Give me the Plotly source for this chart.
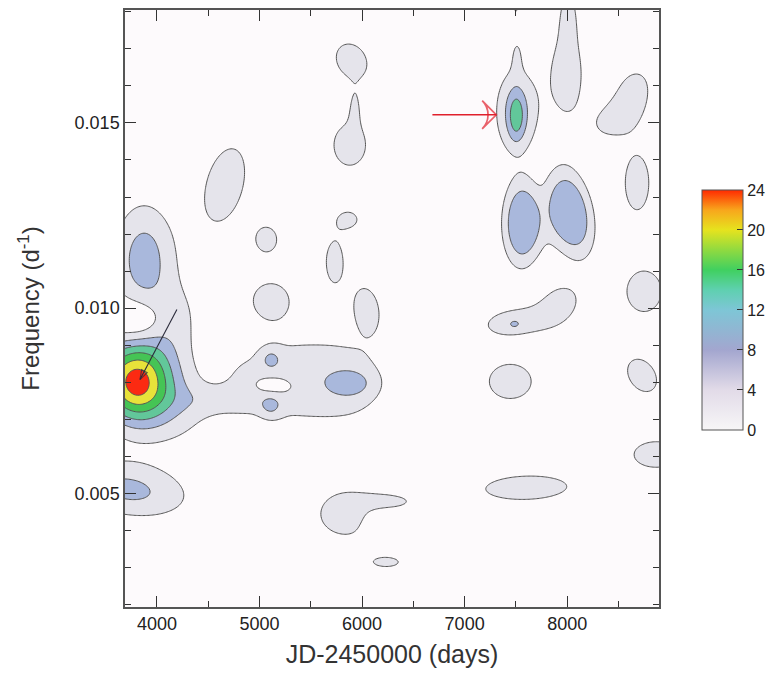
import numpy as np
import plotly.graph_objects as go

# ---- axis / tick values ----
x_range = [3689, 8895]
y_range = [0.00193, 0.01805]
x_ticks = [4000, 5000, 6000, 7000, 8000]
x_tick_labels = ["4000", "5000", "6000", "7000", "8000"]
x_minor = [3500, 4500, 5500, 6500, 7500, 8500]
y_ticks = [0.005, 0.010, 0.015]
y_tick_labels = ["0.005", "0.010", "0.015"]
y_minor = [0.002, 0.003, 0.004, 0.006, 0.007, 0.008, 0.009, 0.011, 0.012, 0.013, 0.014, 0.016, 0.017, 0.018]
cbar_ticks = [0, 4, 8, 12, 16, 20, 24]

# ---- power features ----
# centre JD, centre frequency, peak power, width in JD, width in frequency, tilt, profile power
feat_jd = [3790, 3880, 3875, 4150, 3820, 4620,
           4850, 5148, 5567, 5975, 5888, 5130, 5110, 5110,
           3720, 5860, 6270, 6200, 6240,
           5898, 5880, 5930,
           4662, 5070, 5869, 5732, 5110, 6044,
           7504, 7504, 7510, 7500, 7995, 8010, 8650, 8470, 8681,
           7545, 8050, 7800,
           7480, 7925, 7484, 7445, 7601, 8750, 8730, 8870]
feat_freq = [0.00800, 0.00785, 0.01130, 0.00950, 0.00965, 0.00752,
             0.00800, 0.00805, 0.00805, 0.00800, 0.00797, 0.00790, 0.00864, 0.00735,
             0.00510, 0.00444, 0.00478, 0.00415, 0.00314,
             0.01668, 0.01440, 0.01545,
             0.01333, 0.01185, 0.01239, 0.01125, 0.01023, 0.01002,
             0.01530, 0.01516, 0.01690, 0.01820, 0.01630, 0.01790, 0.01590, 0.01510, 0.01338,
             0.01228, 0.01255, 0.01240,
             0.00962, 0.01010, 0.00956, 0.00802, 0.00515, 0.01045, 0.00818, 0.00605]
feat_amp = [16, 10, 10, 4.5, -6, 3.5,
            2.8, 4.2, 4.2, 4.2, 5, -4, 4.5, 4.5,
            9, 6, 4.6, -4, 5,
            6, 6, 3.5,
            6, 6, 5, 6, 6, 6,
            9, 6.5, 3.2, 5, 6, 5, 5.5, 5.5, 6,
            10, 10, 4.5,
            6.5, 6, 2.2, 6, 6, 6, 6, 6]
feat_wjd = [220, 400, 215, 230, 170, 300,
            150, 272, 272, 272, 150, 180, 78, 78,
            420, 290, 190, 130, 156,
            165, 170, 50,
            214, 107, 117, 88, 175, 117,
            150, 55, 45, 35, 155, 60, 140, 190, 127,
            150, 180, 150,
            250, 170, 40, 226, 438, 185, 156, 240]
feat_wf = [0.00072, 0.00095, 0.00108, 0.00085, 0.00042, 0.00030,
           0.00050, 0.00093, 0.00093, 0.00093, 0.00025, 0.00020, 0.00022, 0.00022,
           0.00055, 0.00062, 0.00015, 0.00028, 0.00016,
           0.00050, 0.00060, 0.00040,
           0.00108, 0.00035, 0.00027, 0.00058, 0.00046, 0.00054,
           0.00085, 0.00045, 0.00040, 0.00025, 0.00105, 0.00060, 0.00050, 0.00045, 0.00080,
           0.00097, 0.00100, 0.00080,
           0.00032, 0.00045, 0.00008, 0.00051, 0.00035, 0.00060, 0.00048, 0.00038]
feat_rho = [0, -0.3, 0, 0.3, 0, 0,
            0, 0, 0, 0, 0, 0, 0, 0,
            -0.25, 0, 0, 0, 0,
            -0.2, 0, 0,
            0.35, 0, 0, 0, 0, -0.2,
            0, 0, 0, 0, 0, 0, 0.2, 0.3, 0,
            0, -0.3, 0,
            0.2, 0.3, 0, 0, 0.1, 0, -0.3, 0]
feat_pow = [2, 2, 2, 2, 2, 2,
            2, 2, 2, 2, 2, 2, 2, 2,
            2, 2, 2, 2, 2,
            2, 2, 2,
            2, 2, 2, 2, 2, 2,
            2, 2, 2, 2, 2, 2, 2, 2, 2,
            3, 3, 2,
            2, 2, 2, 2, 2, 2, 2, 2]

# arrows (tail -> head)
red_arrow_x = [6686, 7309]
red_arrow_y = [0.01522, 0.01522]
dark_arrow_x = [4195, 3835]
dark_arrow_y = [0.00996, 0.00807]

# ---- build the power map ----
gx = np.linspace(3600, 8950, 430)
gy = np.linspace(0.0017, 0.0183, 330)
X, Y = np.meshgrid(gx, gy)
Z = np.zeros_like(X)
for jd, fr, a, wj, wf, r, p in zip(feat_jd, feat_freq, feat_amp, feat_wjd, feat_wf, feat_rho, feat_pow):
    u = (X - jd) / wj
    v = (Y - fr) / wf
    q = (u * u - 2 * r * u * v + v * v) / (1 - r * r)
    Z += a * np.exp(-0.5 * q ** (p / 2.0))

band_scale = [[0, '#fdfafc'], [1 / 6, '#e5e4eb'], [1 / 3, '#a9b8dc'], [1 / 2, '#62c79a'],
              [2 / 3, '#45c455'], [5 / 6, '#e8e23a'], [1, '#fb2a12']]
bar_scale = [[0, '#f7f6f7'], [4 / 24, '#e2dbe8'], [8 / 24, '#a3a6cf'], [12 / 24, '#7ec6d6'],
             [14 / 24, '#5fd0b0'], [16 / 24, '#40d060'], [18 / 24, '#90da40'],
             [20 / 24, '#e6e31e'], [22 / 24, '#f8a61c'], [1, '#ff2a00']]

font = "Liberation Sans, Arial, Helvetica, sans-serif"

fig = go.Figure()
fig.add_trace(go.Contour(
    x=gx, y=gy, z=Z,
    contours=dict(start=4, end=24, size=4, coloring='fill'),
    colorscale=band_scale, showscale=False,
    line=dict(color='#555555', width=1, smoothing=1),
    hoverinfo='skip'))

fig.add_trace(go.Scatter(
    x=[x_range[0] - 500], y=[0.01], mode='markers', showlegend=False, hoverinfo='skip',
    marker=dict(color=[0], cmin=0, cmax=24, colorscale=bar_scale, showscale=True,
                colorbar=dict(x=1.0785, xanchor='left', xpad=0, y=0.4975, yanchor='middle', ypad=0,
                              thickness=41, thicknessmode='pixels', len=240, lenmode='pixels',
                              outlinecolor='#555555', outlinewidth=1,
                              tickvals=cbar_ticks, ticktext=[str(t) for t in cbar_ticks],
                              ticks='inside', ticklen=6, tickcolor='#333333',
                              tickfont=dict(family=font, size=16, color='#222222')))))

# arrows as line + open arrow-head marker
fig.add_trace(go.Scatter(
    x=red_arrow_x, y=red_arrow_y, mode='lines+markers', showlegend=False, hoverinfo='skip',
    line=dict(color='#e0202c', width=1.6),
    marker=dict(symbol=['circle', 'arrow-wide-open'], size=[0, 20], angleref='previous',
                color='#e0202c', line=dict(color='#e0202c', width=1.7))))
fig.add_trace(go.Scatter(
    x=dark_arrow_x, y=dark_arrow_y, mode='lines+markers', showlegend=False, hoverinfo='skip',
    line=dict(color='#2a2a3a', width=1.1),
    marker=dict(symbol=['circle', 'arrow-open'], size=[0, 10], angleref='previous',
                color='#2a2a3a', line=dict(color='#2a2a3a', width=1.2))))

axis_common = dict(showline=True, linecolor='#555555', linewidth=1.5, mirror='ticks',
                   ticks='inside', ticklen=11, tickwidth=1, tickcolor='#333333',
                   showgrid=False, zeroline=False, automargin=False,
                   tickfont=dict(family=font, size=18, color='#222222'))

# the page body adds an 8 px offset, so the figure is 8 px smaller on each axis
fig.update_layout(
    width=765, height=681,
    margin=dict(l=117, r=113, t=2, b=82),
    paper_bgcolor='white', plot_bgcolor='white',
    xaxis=dict(range=x_range, tickmode='array', tickvals=x_ticks, ticktext=x_tick_labels,
               minor=dict(tickvals=x_minor, ticks='inside', ticklen=6, tickcolor='#333333'),
               title=dict(text='JD-2450000 (days)', font=dict(family=font, size=25, color='#333333'), standoff=12),
               **axis_common),
    yaxis=dict(range=y_range, tickmode='array', tickvals=y_ticks, ticktext=y_tick_labels,
               minor=dict(tickvals=y_minor, ticks='inside', ticklen=6, tickcolor='#333333'),
               title=dict(text='Frequency (d<sup>-1</sup>)', font=dict(family=font, size=24, color='#333333'), standoff=28),
               **axis_common),
)

fig.write_html("out.html")
